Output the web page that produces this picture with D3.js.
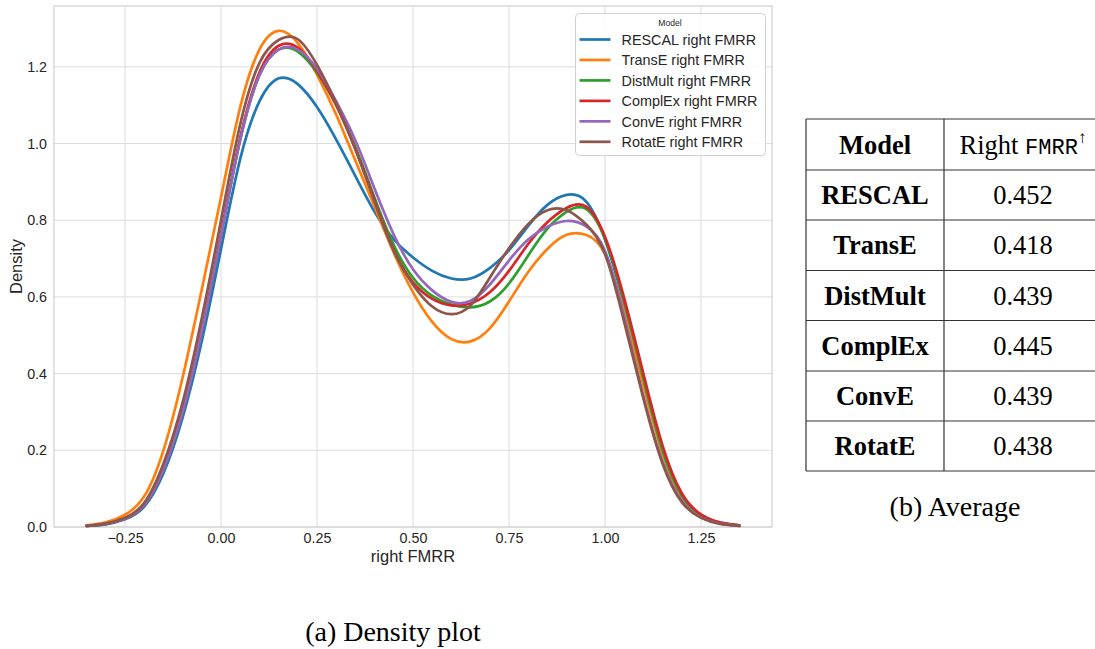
<!DOCTYPE html>
<html><head><meta charset="utf-8">
<script src="https://cdn.jsdelivr.net/npm/d3@7"></script>
<style>
html,body{margin:0;padding:0;background:#fff;}
svg{display:block;}
</style></head>
<body>
<svg id="chart" width="1095" height="649"></svg>
<script>
// ---------- data ----------
const xGrid = [-0.35,-0.30,-0.25,-0.20,-0.15,-0.10,-0.05,0.00,0.05,0.10,0.15,0.20,0.25,0.30,0.35,0.40,0.45,0.50,0.55,0.60,0.65,0.70,0.75,0.80,0.85,0.90,0.95,1.00,1.05,1.10,1.15,1.20,1.25,1.30,1.35];
const seriesNames = ["RESCAL right FMRR","TransE right FMRR","DistMult right FMRR","ComplEx right FMRR","ConvE right FMRR","RotatE right FMRR"];
const rescal   = [0.003,0.007,0.020,0.053,0.140,0.285,0.485,0.725,0.960,1.110,1.170,1.155,1.095,1.010,0.915,0.822,0.750,0.703,0.668,0.648,0.648,0.675,0.722,0.785,0.840,0.866,0.850,0.750,0.580,0.380,0.200,0.082,0.030,0.010,0.004];
const transe   = [0.004,0.012,0.032,0.080,0.200,0.390,0.620,0.860,1.095,1.245,1.294,1.262,1.180,1.075,0.955,0.835,0.715,0.612,0.535,0.490,0.484,0.518,0.588,0.665,0.725,0.762,0.762,0.712,0.560,0.370,0.190,0.078,0.030,0.010,0.004];
const distmult = [0.003,0.008,0.022,0.058,0.150,0.300,0.510,0.760,1.010,1.178,1.245,1.240,1.185,1.100,0.990,0.858,0.735,0.650,0.603,0.580,0.573,0.588,0.635,0.708,0.778,0.822,0.830,0.752,0.588,0.388,0.200,0.082,0.030,0.011,0.004];
const complex  = [0.003,0.008,0.022,0.058,0.152,0.303,0.513,0.763,1.015,1.185,1.255,1.250,1.190,1.100,0.985,0.852,0.722,0.638,0.595,0.578,0.583,0.612,0.668,0.738,0.795,0.832,0.836,0.757,0.597,0.400,0.212,0.088,0.033,0.012,0.004];
const conve    = [0.003,0.008,0.022,0.058,0.150,0.300,0.510,0.760,1.010,1.178,1.245,1.245,1.195,1.110,1.008,0.882,0.762,0.672,0.617,0.587,0.590,0.632,0.695,0.750,0.783,0.798,0.785,0.720,0.548,0.342,0.170,0.068,0.025,0.009,0.003];
const rotate   = [0.003,0.009,0.024,0.063,0.165,0.325,0.545,0.800,1.050,1.210,1.270,1.272,1.205,1.105,0.985,0.848,0.720,0.632,0.575,0.555,0.578,0.650,0.727,0.790,0.826,0.826,0.790,0.712,0.535,0.335,0.165,0.065,0.024,0.008,0.003];
const seriesColors = ["#1f77b4","#ff7f0e","#2ca02c","#d62728","#9467bd","#8c564b"];
const xTicks = [-0.25,0.00,0.25,0.50,0.75,1.00,1.25];
const yTicks = [0.0,0.2,0.4,0.6,0.8,1.0,1.2];

const tableModels = ["RESCAL","TransE","DistMult","ComplEx","ConvE","RotatE"];
const tableValues = ["0.452","0.418","0.439","0.445","0.439","0.438"];

// ---------- layout ----------
const svg = d3.select("#chart");
const plot = {left:54, right:772, top:6, bottom:527};
const allSeries = [rescal,transe,distmult,complex,conve,rotate];

const xExt = d3.extent(xGrid);
const xPad = (xExt[1]-xExt[0])*0.05;
const yMax = d3.max(allSeries.flat())*1.05;
const x = d3.scaleLinear().domain([xExt[0]-xPad, xExt[1]+xPad]).range([plot.left, plot.right]);
const y = d3.scaleLinear().domain([0, yMax]).range([plot.bottom, plot.top]);

const sans = "'Liberation Sans', Arial, Helvetica, sans-serif";
const serif = "'Liberation Serif', 'Times New Roman', serif";
const textCol = "#262626";
const gridCol = "#dcdcdc";

// grid
const g = svg.append("g");
g.selectAll("line.vg").data(xTicks).enter().append("line")
  .attr("x1", d=>x(d)).attr("x2", d=>x(d)).attr("y1", plot.top).attr("y2", plot.bottom)
  .attr("stroke", gridCol).attr("stroke-width", 1);
g.selectAll("line.hg").data(yTicks).enter().append("line")
  .attr("y1", d=>y(d)).attr("y2", d=>y(d)).attr("x1", plot.left).attr("x2", plot.right)
  .attr("stroke", gridCol).attr("stroke-width", 1);

// frame
g.append("rect").attr("x", plot.left).attr("y", plot.top)
  .attr("width", plot.right-plot.left).attr("height", plot.bottom-plot.top)
  .attr("fill","none").attr("stroke","#d0d0d0").attr("stroke-width",1.2);

// axes via d3 (no tick lines)
const fmtX = d => (d<0 ? "\u2212" : "") + d3.format(".2f")(Math.abs(d));
const xAxis = d3.axisBottom(x).tickValues(xTicks).tickFormat(fmtX).tickSize(0).tickPadding(6);
const yAxis = d3.axisLeft(y).tickValues(yTicks).tickFormat(d3.format(".1f")).tickSize(0).tickPadding(7);
const gx = svg.append("g").attr("transform", `translate(0,${plot.bottom})`).call(xAxis);
const gy = svg.append("g").attr("transform", `translate(${plot.left},0)`).call(yAxis);
[gx,gy].forEach(a=>{
  a.select(".domain").remove();
  a.selectAll("text").attr("font-family", sans).attr("font-size", 14.3).attr("fill", textCol);
});

// axis labels
svg.append("text").attr("x", (plot.left+plot.right)/2).attr("y", 562)
  .attr("text-anchor","middle").attr("font-family", sans).attr("font-size", 16.5).attr("fill", textCol)
  .text("right FMRR");
svg.append("text").attr("transform", `translate(22,${(plot.top+plot.bottom)/2}) rotate(-90)`)
  .attr("text-anchor","middle").attr("font-family", sans).attr("font-size", 16.5).attr("fill", textCol)
  .text("Density");

// lines
const line = d3.line().x((d,i)=>x(xGrid[i])).y(d=>y(d)).curve(d3.curveNatural);
svg.append("g").selectAll("path").data(allSeries).enter().append("path")
  .attr("d", d=>line(d)).attr("fill","none")
  .attr("stroke", (d,i)=>seriesColors[i]).attr("stroke-width", 2.7)
  .attr("stroke-linecap","round").attr("stroke-linejoin","round");

// legend
const lg = svg.append("g");
lg.append("rect").attr("x",575.5).attr("y",13.5).attr("width",190).attr("height",142)
  .attr("rx",4).attr("fill","#fff").attr("fill-opacity",0.85).attr("stroke","#d0d0d0").attr("stroke-width",1);
lg.append("text").attr("x",670).attr("y",25.5).attr("text-anchor","middle")
  .attr("font-family",sans).attr("font-size",8.6).attr("fill",textCol).text("Model");
const rowY = d3.scaleLinear().domain([0,5]).range([39.5,141.8]);
const items = lg.selectAll("g.item").data(seriesNames).enter().append("g");
items.append("line").attr("x1",579.5).attr("x2",610.5)
  .attr("y1",(d,i)=>rowY(i)).attr("y2",(d,i)=>rowY(i))
  .attr("stroke",(d,i)=>seriesColors[i]).attr("stroke-width",2.7);
items.append("text").attr("x",621.5).attr("y",(d,i)=>rowY(i)+5.2)
  .attr("font-family",sans).attr("font-size",14.4).attr("fill",textCol).text(d=>d);

// caption (a)
svg.append("text").attr("x",393).attr("y",641).attr("text-anchor","middle")
  .attr("font-family",serif).attr("font-size",28).attr("fill","#000").text("(a) Density plot");

// ---------- table ----------
const tb = svg.append("g");
const tLeft = 806, tDiv = 944, tRight = 1104;
const rowLines = [119,170,220,270.5,320.5,371,421,471];
const lineCol = "#333";
tb.selectAll("line.h").data(rowLines).enter().append("line")
  .attr("x1",tLeft).attr("x2",tRight).attr("y1",d=>d).attr("y2",d=>d)
  .attr("stroke",lineCol).attr("stroke-width",1.2);
[tLeft,tDiv,tRight].forEach(xx=>{
  tb.append("line").attr("x1",xx).attr("x2",xx).attr("y1",rowLines[0]).attr("y2",rowLines[rowLines.length-1])
    .attr("stroke",lineCol).attr("stroke-width",1.2);
});
const c1 = (tLeft+tDiv)/2, c2 = (tDiv+tRight)/2 - 1;
const hdrY = (rowLines[0]+rowLines[1])/2 + 9;
tb.append("text").attr("x",c1).attr("y",hdrY).attr("text-anchor","middle")
  .attr("font-family",serif).attr("font-weight","bold").attr("font-size",26.5).attr("fill","#000").text("Model");
const hdr = tb.append("text").attr("x",c2).attr("y",hdrY).attr("text-anchor","middle")
  .attr("font-family",serif).attr("font-size",26.5).attr("fill","#000");
hdr.append("tspan").text("Right ");
hdr.append("tspan").attr("font-family","'Liberation Mono','DejaVu Sans Mono',monospace").attr("font-size",22).text("FMRR");
hdr.append("tspan").attr("font-size",17).attr("dy",-11).text("\u2191");
tableModels.forEach((m,i)=>{
  const cy = (rowLines[i+1]+rowLines[i+2])/2 + 9;
  tb.append("text").attr("x",c1).attr("y",cy).attr("text-anchor","middle")
    .attr("font-family",serif).attr("font-weight","bold").attr("font-size",26.5).attr("fill","#000").text(m);
  tb.append("text").attr("x",c2).attr("y",cy).attr("text-anchor","middle")
    .attr("font-family",serif).attr("font-size",26.5).attr("fill","#000").text(tableValues[i]);
});
svg.append("text").attr("x",955).attr("y",516).attr("text-anchor","middle")
  .attr("font-family",serif).attr("font-size",28).attr("fill","#000").text("(b) Average");
</script>
</body></html>
